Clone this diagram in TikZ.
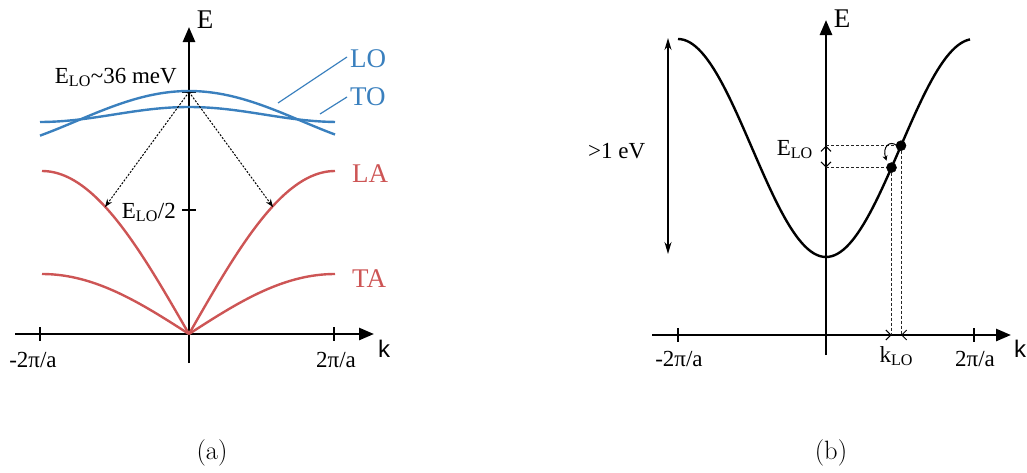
\documentclass[tikz,border=0pt]{standalone}
\usepackage{fontspec}
\newfontfamily\tms{Liberation Serif}
\newfontfamily\arl{Liberation Sans}
\usetikzlibrary{arrows.meta,calc}
\definecolor{oblue}{RGB}{58,128,190}
\definecolor{ored}{RGB}{205,85,85}
\begin{document}
\begin{tikzpicture}[x=1pt,y=-1pt,
  axisln/.style={line width=2.6pt,-{Triangle[length=15pt,width=12pt]}},
  tickmark/.style={line width=2.6pt},
  smalltxt/.style={font=\tms\fontsize{23}{25}\selectfont, inner sep=0pt},
  bigtxt/.style={font=\tms\fontsize{27}{29}\selectfont, inner sep=0pt},
  sanstxt/.style={font=\arl\fontsize{24}{26}\selectfont, inner sep=0pt},
  captxt/.style={font=\fontsize{26.5}{28}\selectfont, inner sep=0pt},
  branch/.style={line width=2.4pt},
  dotarrow/.style={line width=1pt, dash pattern=on 2pt off 1.5pt, -{Stealth[length=8pt,width=6pt]}},
  dashln/.style={line width=1pt, dash pattern=on 3pt off 2pt, black!85},
  barb/.style={line width=1pt, -{Straight Barb[length=5pt,width=10pt]}},
  dotnode/.style={circle, fill=black, draw=black, line width=0.5pt, inner sep=0pt, minimum size=10pt},
]
\useasboundingbox (0,0) rectangle (1027,472);

% ---------------- panel (a) ----------------
\coordinate (Oa) at (189,334);
\coordinate (ka0) at (15,334);
\coordinate (ka1) at (374,334);
\coordinate (Ea0) at (189,363);
\coordinate (Ea1) at (189,27);
\draw[axisln] (ka0) -- (ka1);
\draw[axisln] (Ea0) -- (Ea1);
\draw[tickmark] (40,327) -- (40,341);
\draw[tickmark] (334,327) -- (334,341);
\draw[tickmark] (182,92) -- (196,92);
\draw[tickmark] (182,210) -- (196,210);
\node[smalltxt, anchor=base] (am2) at (33,367) {-2π/a};
\node[smalltxt, anchor=base] (ap2) at (336,367) {2π/a};
\node[sanstxt, anchor=base] (ak) at (384,357) {k};
\node[bigtxt, anchor=base] (aE) at (205,28) {E};
\node[smalltxt, anchor=base east] (aELO) at (177,83) {E\textsubscript{LO}\textasciitilde 36 meV};
\node[smalltxt, anchor=base east] (aELO2) at (176,218) {E\textsubscript{LO}/2};

% optical branches
\draw[branch, oblue] plot[domain=-149:146, samples=80] ({189+\x}, {91+30*(1-cos(0.8*\x))});
\draw[branch, oblue] plot[domain=-149:146, samples=80] ({189+\x}, {107+7.5*(1-cos(1.2*\x))});
% acoustic branches
\draw[branch, ored] plot[domain=0:147, samples=60] ({189-\x}, {334-163*sin(\x/147*90)});
\draw[branch, ored] plot[domain=0:146, samples=60] ({189+\x}, {334-163*sin(\x/146*90)});
\draw[branch, ored] plot[domain=0:147, samples=60] ({189-\x}, {334-60*sin(\x/147*90)});
\draw[branch, ored] plot[domain=0:146, samples=60] ({189+\x}, {334-60*sin(\x/146*90)});

% labels
\node[bigtxt, oblue, anchor=base west] (LO) at (350,67) {LO};
\node[bigtxt, oblue, anchor=base west] (TO) at (350,105) {TO};
\node[bigtxt, ored, anchor=base west] (LA) at (352,182) {LA};
\node[bigtxt, ored, anchor=base west] (TA) at (352,287) {TA};
\coordinate (LOa) at (278,103);
\coordinate (LOb) at (347,57);
\coordinate (TOa) at (320,114);
\coordinate (TOb) at (347,97);
\draw[oblue, line width=1.2pt] (LOa) -- (LOb);
\draw[oblue, line width=1.2pt] (TOa) -- (TOb);

% decay arrows
\coordinate (top) at (189,92);
\coordinate (laL) at (105,207);
\coordinate (laR) at (273,207);
\draw[dotarrow] (top) -- (laL);
\draw[dotarrow] (top) -- (laR);

% ---------------- panel (b) ----------------
\coordinate (Ob) at (826,335);
\coordinate (kb0) at (652,335);
\coordinate (kb1) at (1011,335);
\coordinate (Eb0) at (826,355);
\coordinate (Eb1) at (826,20);
\draw[axisln] (kb0) -- (kb1);
\draw[axisln] (Eb0) -- (Eb1);
\draw[tickmark] (678,328) -- (678,342);
\draw[tickmark] (974,328) -- (974,342);
\node[smalltxt, anchor=base] (bm2) at (679,366) {-2π/a};
\node[smalltxt, anchor=base] (bp2) at (975,366) {2π/a};
\node[sanstxt, anchor=base] (bk) at (1020,357) {k};
\node[bigtxt, anchor=base] (bE) at (842,27) {E};

% band
\draw[branch, black] plot[domain=-148:144, samples=100] ({826+\x}, {39+109*(1+cos(\x/148*180))});

% >1 eV
\coordinate (ev0) at (668,38);
\coordinate (ev1) at (668,254);
\draw[line width=1.4pt, {Stealth[length=12pt,width=7pt]}-{Stealth[length=12pt,width=7pt]}] (ev1) -- (ev0);
\node[smalltxt, anchor=base west] (ev) at (588,158) {>1 eV};

% LO emission on the band
\coordinate (d1c) at ({826+75}, {39+109*(1+cos(75/148*180))});
\coordinate (d2c) at ({826+65.5}, {39+109*(1+cos(65.5/148*180))});
\coordinate (e1) at (Ob |- d1c);
\coordinate (e2) at (Ob |- d2c);
\coordinate (k1) at (d1c |- Ob);
\coordinate (k2) at (d2c |- Ob);
\draw[dashln] (e1) -- (d1c);
\draw[dashln] (e2) -- (d2c);
\draw[dashln] (d1c) -- (k1);
\draw[dashln] (d2c) -- (k2);
\draw[barb] ([yshift=-8pt]e1) -- (e1);
\draw[barb] ([yshift=8pt]e2) -- (e2);
\draw[barb] ([xshift=-8pt]k2) -- (k2);
\draw[barb] ([xshift=8pt]k1) -- (k1);
\coordinate (cv) at ($(d2c)+(-5,-7)$);
\draw[line width=1pt, -{Stealth[length=5pt,width=5pt]}] ($(d1c)+(-4,0)$) .. controls ($(d1c)+(-11,-6)$) and ($(d1c)+(-19,1)$) .. (cv);
\node[dotnode] (d1) at (d1c) {};
\node[dotnode] (d2) at (d2c) {};
\node[smalltxt, anchor=base east] (bELO) at (813,155) {E\textsubscript{LO}};
\node[smalltxt, anchor=base] (kLO) at ($(k1)!0.5!(k2)+(0,27)$) {k\textsubscript{LO}};

% captions
\node[captxt] (capa) at (212,453) {(a)};
\node[captxt] (capb) at (831,453) {(b)};
\end{tikzpicture}
\end{document}
